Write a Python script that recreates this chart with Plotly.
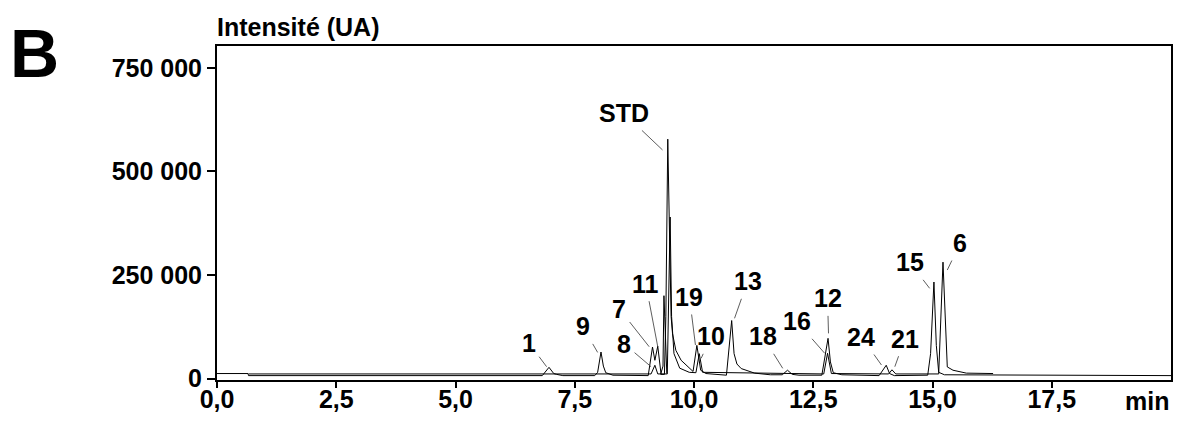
import plotly.graph_objects as go

# ---- data (time in min, intensity in UA) ----
t_a = [0.0, 0.65, 0.66, 6.82, 6.96, 7.06, 7.12, 7.25,
       7.92, 7.98, 8.05, 8.10, 8.15, 8.30,
       9.04, 9.13, 9.18, 9.24, 9.31,
       9.38, 9.41, 9.45, 9.49, 9.52, 9.55, 9.62, 9.73, 9.90, 9.98,
       10.06, 10.14, 10.25, 10.66,
       10.68, 10.79, 10.84, 10.90, 10.99, 11.27, 11.60, 11.85, 11.96, 12.06, 12.20,
       12.68, 12.81, 12.86, 12.92, 13.10,
       13.88, 14.03, 14.10, 14.20,
       14.90, 14.96, 15.03, 15.08, 15.13, 15.25, 20.0]
i_a = [12000, 12000, 7000, 7000, 27000, 12000, 10000, 7000,
       7000, 15000, 64000, 30000, 14000, 8000,
       7000, 76000, 44000, 78000, 10000,
       10000, 150000, 578000, 330000, 150000, 108000, 68000, 44000, 26000, 17000,
       80000, 20000, 12000, 8000,
       8000, 140000, 60000, 35000, 24000, 13000, 9000, 9000, 20000, 10000, 8000,
       8000, 97000, 40000, 14000, 9000,
       7000, 32000, 12000, 7000,
       8000, 60000, 233000, 80000, 15000, 9000, 7000]

t_b = [0.66, 9.10, 9.18, 9.24, 9.44, 9.47, 9.50, 9.53, 9.58, 9.70, 9.90,
       10.04, 10.11, 10.18, 12.72, 12.80, 12.88, 14.08, 14.15, 14.23,
       15.13, 15.22, 15.26, 15.31, 15.43, 15.71, 16.27]
i_b = [11000, 11000, 32000, 11000, 11000, 200000, 390000, 150000, 60000, 25000, 15000,
       14000, 60000, 15000, 11000, 61000, 12000, 11000, 21000, 11000,
       11000, 281000, 160000, 28000, 20000, 13000, 12000]

t_c = [9.30, 9.35, 9.37, 9.40, 9.43]
i_c = [10000, 30000, 200000, 90000, 12000]

peak_names = ["STD", "1", "9", "7", "8", "11", "19", "10", "13", "18",
              "16", "12", "24", "21", "15", "6"]
peak_t = [9.34, 6.91, 7.98, 9.06, 9.10, 9.24, 10.03, 10.15, 10.85, 11.86,
          12.74, 12.82, 13.93, 14.21, 14.94, 15.31]
peak_i = [552000, 28500, 63000, 76800, 28500, 76800, 81000, 48800, 145400, 24600,
          60900, 109000, 32600, 28500, 217800, 262000]

x_tick_vals = [0, 2.5, 5, 7.5, 10, 12.5, 15, 17.5]
x_tick_text = ["0,0", "2,5", "5,0", "7,5", "10,0", "12,5", "15,0", "17,5"]
y_tick_vals = [0, 250000, 500000, 750000]
y_tick_text = ["0", "250 000", "500 000", "750 000"]

# ---- label offsets (pixels, text centre relative to leader tip) ----
label_dx = [-39, -18, -15, -30, -27, -12, -6, 10, 13, -20, -28, -1, -20, 10, -20, 13]
label_dy = [-37, -24, -26, -38, -23, -63, -48, -22, -37, -32, -32, -35, -28, -28, -26, -27]

FONT = "Liberation Sans, Arial, sans-serif"

fig = go.Figure()
for tt, ii in [(t_a, i_a), (t_b, i_b), (t_c, i_c)]:
    fig.add_trace(go.Scatter(x=tt, y=ii, mode="lines",
                             line=dict(color="black", width=1),
                             showlegend=False, hoverinfo="skip"))

annotations = []
for name, tx, iy, dx, dy in zip(peak_names, peak_t, peak_i, label_dx, label_dy):
    annotations.append(dict(
        x=tx, y=iy, xref="x", yref="y", text="<b>" + name + "</b>",
        showarrow=True, arrowhead=0, arrowwidth=0.8, arrowcolor="#333",
        ax=dx, ay=dy, standoff=0, borderpad=3,
        font=dict(family=FONT, size=25, color="black")))

annotations.append(dict(x=1, y=-0.062, xref="paper", yref="paper",
                        xanchor="right", yanchor="middle", showarrow=False,
                        text="<b>min</b>", font=dict(family=FONT, size=25, color="black")))
annotations.append(dict(x=-0.002, y=1.057, xref="paper", yref="paper",
                        xanchor="left", yanchor="middle", showarrow=False,
                        text="<b>Intensité (UA)</b>",
                        font=dict(family=FONT, size=25, color="black")))
annotations.append(dict(x=-0.191, y=0.979, xref="paper", yref="paper",
                        xanchor="center", yanchor="middle", showarrow=False,
                        text="<b>B</b>", font=dict(family=FONT, size=68, color="black")))

fig.update_layout(
    width=1184, height=421,
    margin=dict(l=217, r=13, t=46, b=41, autoexpand=False),
    paper_bgcolor="white", plot_bgcolor="white",
    annotations=annotations,
    xaxis=dict(range=[0, 20], tickvals=x_tick_vals, ticktext=x_tick_text,
               automargin=False, ticklabelstandoff=-10,
               showgrid=False, zeroline=False, showline=True, linecolor="black",
               linewidth=2, mirror=True, ticks="outside", ticklen=6, tickwidth=1.5,
               tickcolor="black",
               tickfont=dict(family=FONT, size=25, color="black", weight="bold")),
    yaxis=dict(range=[-3600, 803000], tickvals=y_tick_vals, ticktext=y_tick_text,
               automargin=False,
               showgrid=False, zeroline=False, showline=True, linecolor="black",
               linewidth=2, mirror=True, ticks="outside", ticklen=8, tickwidth=1.5,
               tickcolor="black",
               tickfont=dict(family=FONT, size=25, color="black", weight="bold")),
)

fig.write_html("out.html", config={"displayModeBar": False},
               post_script="document.body.style.margin='0';"
                           "document.body.style.overflow='hidden';")
